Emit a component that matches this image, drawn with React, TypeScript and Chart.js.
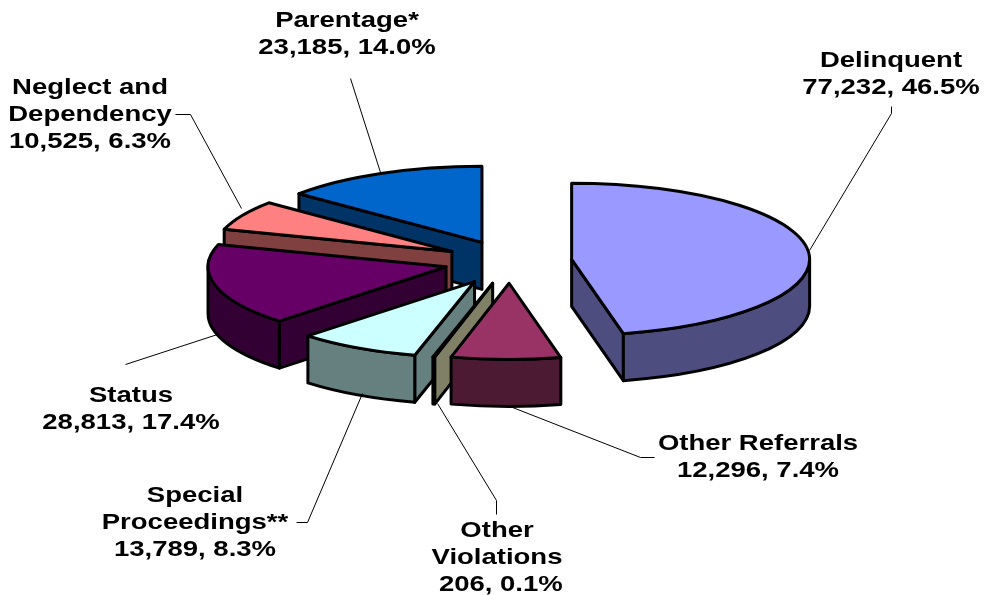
import React, { useEffect, useRef } from "react";
import { Chart, registerables } from "chart.js";

Chart.register(...registerables);

const categories = ["Delinquent", "Other Referrals", "Other Violations", "Special Proceedings**", "Status", "Neglect and Dependency", "Parentage*"];
const values = [77232, 12296, 206, 13789, 28813, 10525, 23185];
const percents = [46.5, 7.4, 0.1, 8.3, 17.4, 6.3, 14.0];
const labelNameLines = [["Delinquent"], ["Other Referrals"], ["Other", "Violations"], ["Special", "Proceedings**"], ["Status"], ["Neglect and", "Dependency"], ["Parentage*"]];
const valuePrefixes = ["", "", " ", "", "", "", ""];
const topColors = ["#9999FF", "#993366", "#FFFFCC", "#CCFFFF", "#660066", "#FF8080", "#0066CC"];
const wallColors = ["#4D4D80", "#4D1A33", "#808066", "#668080", "#330033", "#804040", "#003366"];
const explode = [62, 68, 70, 72, 66, 66, 66];

// layout of the 3D projection and of the labels
const TILT = 0.32;
const DEPTH = 47;
const paintOrder = [6, 5, 4, 3, 2, 1, 0];
const labelAnchors: [number, number][] = [[891, 61], [758, 444], [497, 531], [195, 496], [131, 396], [90, 88], [347, 21]];
const leaders: [number, number][][] = [
  [[809, 250], [891, 113], [891, 106]],
  [[507, 405], [640, 457], [654, 457]],
  [[437, 403], [496, 500], [496, 514]],
  [[362, 393], [307, 522], [296, 522]],
  [[217, 334], [125, 364]],
  [[241, 208], [190, 114], [175, 114]],
  [[380, 172], [350, 78]],
];
const LINE_HEIGHT = 27;
const FONT_SIZE = 22;
const TEXT_STRETCH = 1.25;

const norm = (a: number) => {
  const t = Math.PI * 2;
  return ((a % t) + t) % t;
};

const pie3d = {
  id: "pie3d",
  beforeDatasetDraw(chart: any) {
    const ctx = chart.ctx;
    const arcs = chart.getDatasetMeta(0).data;
    ctx.save();
    ctx.lineWidth = 3;
    ctx.strokeStyle = "#000";
    ctx.lineJoin = "round";
    for (const i of paintOrder) {
      const arc = arcs[i];
      const { startAngle: a0, endAngle: a1, outerRadius: r, x, y } = arc;
      const mid = (a0 + a1) / 2;
      const off = arc.options.offset;
      const cx = x + Math.cos(mid) * off;
      const cy = y + Math.sin(mid) * off * TILT;
      const rx = r;
      const ry = r * TILT;
      const pt = (a: number) => [cx + Math.cos(a) * rx, cy + Math.sin(a) * ry];

      ctx.fillStyle = wallColors[i];
      const mp = pt(mid);
      // radial faces, drawn when they face the viewer
      for (const a of [a0, a1]) {
        const p = pt(a);
        const ex = p[0] - cx;
        const ey = p[1] - cy;
        if (Math.abs(ex) < 0.5) continue;
        const lineY = cy + (ey * (mp[0] - cx)) / ex;
        if (mp[1] < lineY) {
          ctx.beginPath();
          ctx.moveTo(cx, cy);
          ctx.lineTo(p[0], p[1]);
          ctx.lineTo(p[0], p[1] + DEPTH);
          ctx.lineTo(cx, cy + DEPTH);
          ctx.closePath();
          ctx.fill();
          ctx.stroke();
        }
      }
      // outer wall: the part of the rim on the front half
      const s = norm(a0);
      const e = s + (a1 - a0);
      for (const [lo, hi] of [[0, Math.PI], [Math.PI * 2, Math.PI * 3]]) {
        const b0 = Math.max(s, lo);
        const b1 = Math.min(e, hi);
        if (b1 > b0) {
          ctx.beginPath();
          ctx.ellipse(cx, cy, rx, ry, 0, b0, b1, false);
          ctx.ellipse(cx, cy + DEPTH, rx, ry, 0, b1, b0, true);
          ctx.closePath();
          ctx.fill();
          ctx.stroke();
        }
      }
      // top face
      ctx.fillStyle = arc.options.backgroundColor;
      ctx.beginPath();
      ctx.moveTo(cx, cy);
      ctx.ellipse(cx, cy, rx, ry, 0, a0, a1, false);
      ctx.closePath();
      ctx.fill();
      ctx.stroke();
    }
    ctx.restore();
    return false;
  },
  afterDatasetsDraw(chart: any) {
    const ctx = chart.ctx;
    ctx.save();
    ctx.strokeStyle = "#000";
    ctx.lineWidth = 1;
    for (const line of leaders) {
      ctx.beginPath();
      line.forEach(([px, py], j) => (j ? ctx.lineTo(px + 0.5, py + 0.5) : ctx.moveTo(px + 0.5, py + 0.5)));
      ctx.stroke();
    }
    ctx.fillStyle = "#000";
    ctx.font = `bold ${FONT_SIZE}px "Liberation Sans", Arial, sans-serif`;
    ctx.textAlign = "center";
    ctx.textBaseline = "middle";
    categories.forEach((_, i) => {
      const lines = [
        ...labelNameLines[i],
        `${valuePrefixes[i]}${values[i].toLocaleString("en-US")}, ${percents[i].toFixed(1)}%`,
      ];
      const [ax, ay] = labelAnchors[i];
      lines.forEach((text, j) => {
        ctx.save();
        ctx.translate(ax, ay + j * LINE_HEIGHT);
        ctx.scale(TEXT_STRETCH, 1);
        ctx.fillText(text, 0, 0);
        ctx.restore();
      });
    });
    ctx.restore();
  },
};

export default function App() {
  const ref = useRef<HTMLCanvasElement>(null);
  useEffect(() => {
    const chart = new Chart(ref.current!, {
      type: "pie",
      data: {
        labels: categories,
        datasets: [{ data: values, backgroundColor: topColors, offset: explode, borderWidth: 0 }],
      },
      options: {
        responsive: false,
        animation: false,
        radius: 238,
        layout: { padding: { left: 36, bottom: 72 } },
        plugins: { legend: { display: false }, tooltip: { enabled: false } },
      },
      plugins: [pie3d],
    } as any);
    return () => chart.destroy();
  }, []);
  return (
    <div style={{ position: "absolute", left: 0, top: 0, width: 984, height: 595, background: "#fff" }}>
      <canvas ref={ref} width={984} height={595} style={{ display: "block" }} />
    </div>
  );
}
